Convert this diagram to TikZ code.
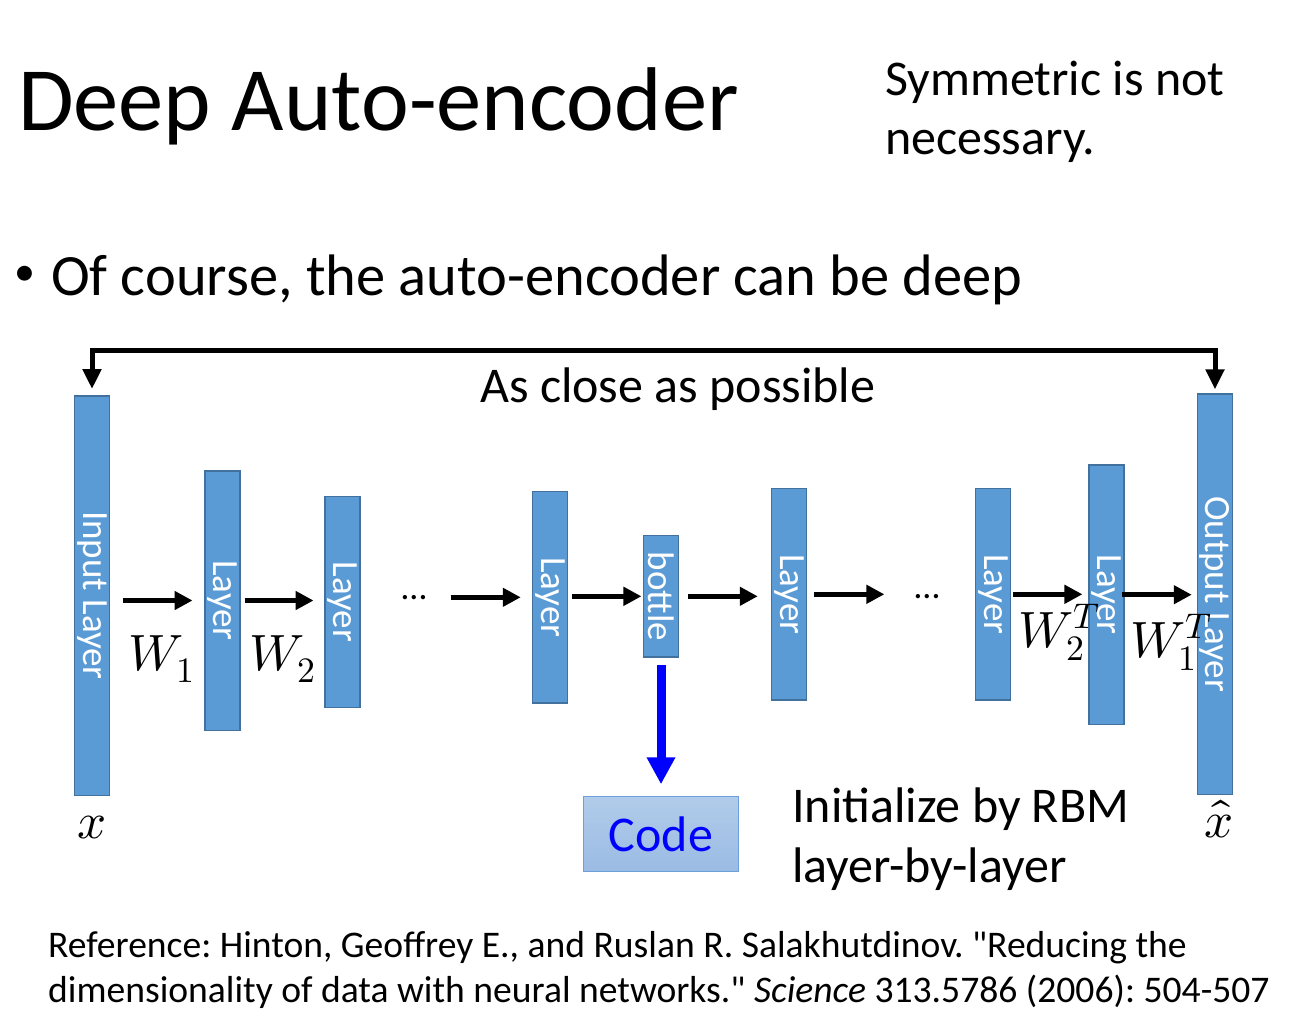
\documentclass[tikz,border=0pt]{standalone}
\usepackage{unicode-math}
\setmainfont{Carlito}[Ligatures=TeXOff]
\setmathfont{Latin Modern Math}
\usetikzlibrary{arrows.meta}

\definecolor{layerfill}{HTML}{5B9BD5}
\definecolor{layerline}{HTML}{41719C}
\definecolor{codetop}{HTML}{B1CCEA}
\definecolor{codebot}{HTML}{9BBBE4}
\definecolor{codeline}{HTML}{6CA0DC}

\newcommand{\fsz}[2]{\fontsize{#1}{#2}\selectfont}
\frenchspacing

\begin{document}
\begin{tikzpicture}[x=1pt, y=-1pt,
    layer/.style={draw=layerline, fill=layerfill, line width=1.5pt, minimum width=35pt, inner sep=0pt},
    layertext/.style={white, rotate=-90, inner sep=0pt, font=\fsz{37}{42}},
    fwd/.style={line width=4.5pt, -{Triangle[length=18pt,width=18pt]}},
    txt/.style={anchor=base west, inner sep=0pt, align=left}]

  \useasboundingbox (0,0) rectangle (1303,1022);

	%titles
  \node[txt, font=\fsz{90.5}{100}] (title) at (18,131) {Deep Auto-encoder};
  \node[txt, font=\fsz{50}{59}] (note) at (885,154) {Symmetric is not\\necessary.};
  \node[inner sep=0pt, font=\fsz{42}{48}] (dot) at (24.7,275.5) {\textbullet};
  \node[txt, font=\fsz{58.5}{70}] (bullet) at (51,295) {Of course, the auto-encoder can be deep};

	%layers
    \foreach \x/\y/\h/\name/\txt in {92/595.5/401/In/Input Layer, 222.3/600.5/261/L1/Layer, 342.3/602/212.6/L2/Layer,
                                   550/597.3/213.3/L3/Layer, 661/596.3/123.3/B/bottle, 789/594.3/213.3/L4/Layer,
                                   993/594.3/213.3/L5/Layer, 1106.3/594.7/260.7/L6/Layer, 1215/594.2/401.7/Out/Output Layer}{
         \node[layer, minimum height=\h-1.5] (\name) at (\x,\y) {};
         \node[layertext] (\name-t) at (\name) {\txt};
    }

    \node[inner sep=0pt, font=\fsz{36}{40}] (dA) at (414,598) {…};
    \node[inner sep=0pt, font=\fsz{36}{40}] (dB) at (927,597) {…};

	%arrows
    \foreach \a/\b/\r/\s/\t in {In/L1/L1/13/11.5, L1/L2/L1/4/10.5, dA/L3/L3/24/11, L3/B/B/4/1.3,
                                B/L4/B/9/13, L4/dB/L4/7/30, L5/L6/L5/2/5.6, L6/Out/L6/-3/5}{
         \draw[fwd, shorten <=\s, shorten >=\t] (\a.east |- \r) -- (\b.west |- \r);
    }

	%weights
  \node[txt, font=\fsz{51}{56}] (w1) at (128,670) {$W_1$};
  \node[txt, font=\fsz{51}{56}] (w2) at (249,670) {$W_2$};
  \node[txt, font=\fsz{51}{56}] (w2t) at (1018,647) {$W_2^T$};
  \node[txt, font=\fsz{51}{56}] (w1t) at (1130,657) {$W_1^T$};
  \node[anchor=base, inner sep=0pt, font=\fsz{51}{56}] (x) at (92,838) {$x$};
  \node[anchor=base, inner sep=0pt, font=\fsz{51}{56}] (xhat) at (1219,837) {$\hat{x}$};

	%as close as possible
  \coordinate (top) at (0,350);
  \draw[line width=5pt, {Triangle[length=20pt,width=18pt]}-{Triangle[length=20pt,width=18pt]}, shorten <=6, shorten >=4]
       (In.north) -- (In.north |- top) -- (Out.north |- top) -- (Out.north);
  \node[txt, font=\fsz{50}{59}] (close) at (480,402) {As close as possible};

	%code
  \node[draw=codeline, line width=1.5pt, top color=codetop, bottom color=codebot, minimum width=155pt, minimum height=75pt,
        text=blue, font=\fsz{50}{59}] (code) at (661,834) {Code};
  \draw[blue, line width=9pt, -{Triangle[length=27pt,width=27pt]}, shorten <=7, shorten >=11.5] (B.south) -- (code.north);

  \node[txt, font=\fsz{50}{60}] (init) at (792,882) {Initialize by RBM\\layer-by-layer};

	%reference
  \node[txt, font=\fsz{37.6}{45}] (ref) at (48,1002) {Reference: Hinton, Geoffrey E., and Ruslan R. Salakhutdinov. "Reducing the\\dimensionality of data with neural networks." \textit{Science} 313.5786 (2006): 504-507};

\end{tikzpicture}
\end{document}
